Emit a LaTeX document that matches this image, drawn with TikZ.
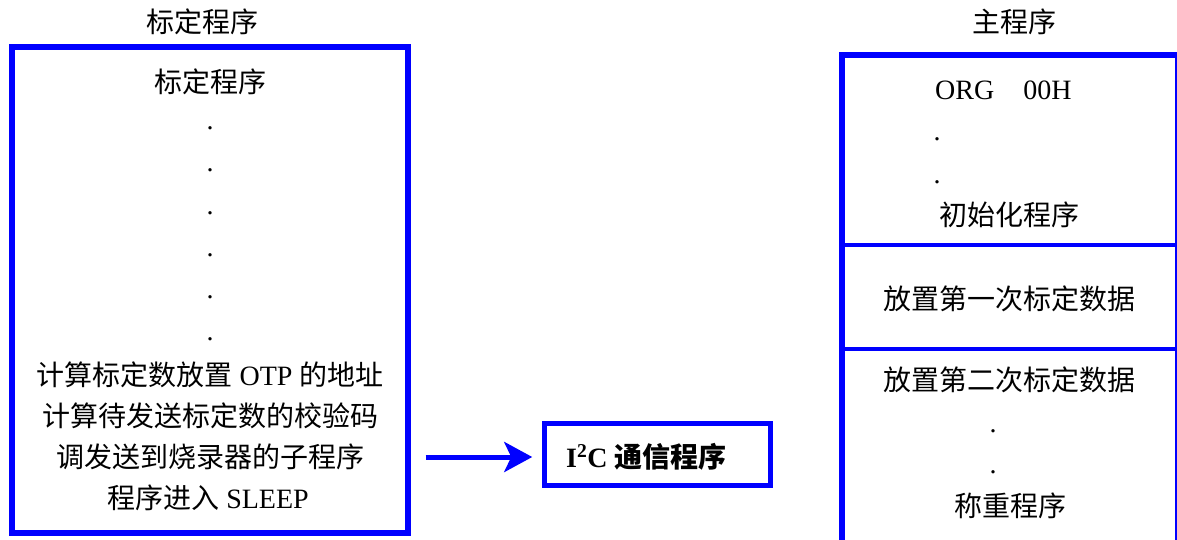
\documentclass[tikz,border=0pt]{standalone}
\usepackage{fontspec}
\setmainfont{Liberation Serif}
\newfontfamily\cjk{Noto Sans CJK SC}
\usetikzlibrary{arrows.meta}
\definecolor{pureblue}{RGB}{0,0,255}
\begin{document}
\begin{tikzpicture}[x=1pt,y=-1pt,
  box/.style={draw=pureblue, line width=6pt, rectangle, inner sep=0pt},
  divider/.style={draw=pureblue, line width=3.6pt},
  txt/.style={anchor=base, inner sep=0pt, font=\fontsize{28}{34}\selectfont},
  dotnode/.style={anchor=base, inner sep=0pt, font=\fontsize{28}{34}\selectfont},
  flow/.style={draw=pureblue, line width=5pt, -{Stealth[length=28pt,width=30pt,inset=7pt]}}]
\useasboundingbox (0,0) rectangle (1177,540);
\clip (0,0) rectangle (1177,540);
% left column
\node[txt] (ttlL) at (202,33) {\cjk 标定程序};
\node[box, minimum width=395.5pt, minimum height=485.8pt] (L) at (209.75,289.6) {};
\node[txt] (l0) at (210,92.5) {\cjk 标定程序};
\node[dotnode] (d1) at (210,130) {.};
\node[dotnode] (d2) at (210,172) {.};
\node[dotnode] (d3) at (210,214) {.};
\node[dotnode] (d4) at (210,256) {.};
\node[dotnode] (d5) at (210,298) {.};
\node[dotnode] (d6) at (210,340) {.};
\node[txt] (l1) at (210,385.5) {{\cjk 计算标定数放置} OTP {\cjk 的地址}};
\node[txt] (l2) at (210,426.5) {\cjk 计算待发送标定数的校验码};
\node[txt] (l3) at (210,467.5) {\cjk 调发送到烧录器的子程序};
\node[txt] (l4) at (208,508) {{\cjk 程序进入} SLEEP};
% I2C box
\node[box, line width=5.5pt, minimum width=226pt, minimum height=62pt] (I2C) at (657.5,454.5) {};
\node[txt, anchor=base west, font=\fontsize{28}{34}\selectfont\bfseries] (i2ct) at (566,467) {I\textsuperscript{2}C {\cjk 通信程序}};
\draw[flow] ([xshift=15pt,yshift=-2.5pt]L.east |- I2C.west) -- ([xshift=-9.5pt,yshift=-2.5pt]I2C.west);
% right column
\node[txt] (ttlR) at (1014,33) {\cjk 主程序};
\node[box, minimum width=335.5pt, minimum height=504.5pt] (R) at (1009.75,307.75) {};
\draw[divider] (R.west |- 0,245) -- (R.east |- 0,245);
\draw[divider] (R.west |- 0,348.7) -- (R.east |- 0,348.7);
\node[txt, anchor=base west] (r0) at (935,99.5) {ORG\hspace{29pt}00H};
\node[dotnode] (rd1) at (937,141) {.};
\node[dotnode] (rd2) at (937,183) {.};
\node[txt] (r1) at (1009,225) {\cjk 初始化程序};
\node[txt] (r2) at (1009,309) {\cjk 放置第一次标定数据};
\node[txt] (r3) at (1009,390.5) {\cjk 放置第二次标定数据};
\node[dotnode] (rd3) at (993,432.5) {.};
\node[dotnode] (rd4) at (993,473) {.};
\node[txt] (r4) at (1010,516) {\cjk 称重程序};
\end{tikzpicture}
\end{document}
